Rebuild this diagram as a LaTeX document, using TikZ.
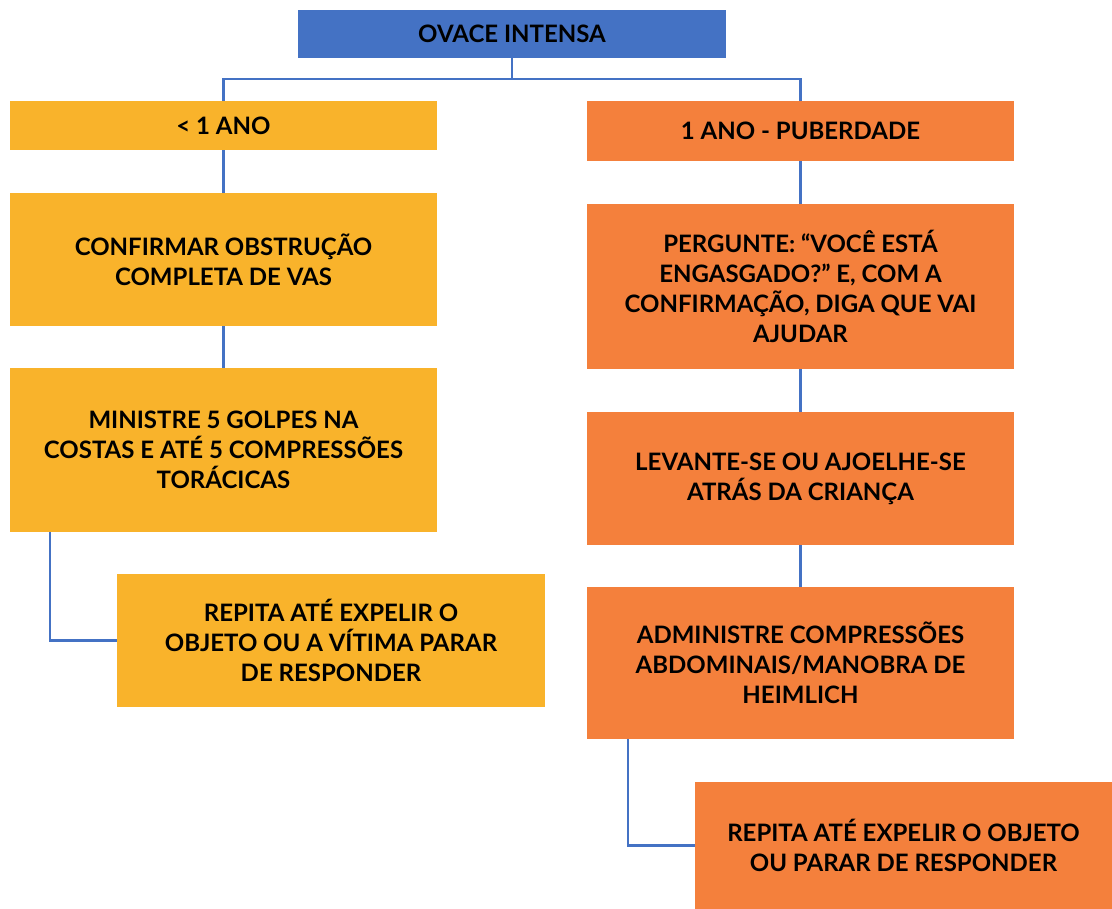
\documentclass[tikz,border=0pt]{standalone}
\usepackage{fontspec}
\setmainfont{Lato}
\usepackage{tikz}

\definecolor{ovblue}{HTML}{4472C4}
\definecolor{ovyellow}{HTML}{F9B32B}
\definecolor{ovorange}{HTML}{F4803C}

\begin{document}
\begin{tikzpicture}[
    x=1pt, y=-1pt,
    head/.style={rectangle, minimum width=428pt, minimum height=48pt, text centered, fill=ovblue, font=\bfseries\fontsize{24}{30}\selectfont},
    infant/.style={rectangle, minimum width=427pt, text centered, align=center, fill=ovyellow, font=\bfseries\fontsize{24}{30}\selectfont},
    child/.style={rectangle, minimum width=427pt, text centered, align=center, fill=ovorange, font=\bfseries\fontsize{24}{30}\selectfont},
    link/.style={ovblue, line width=2.2pt}
]

\useasboundingbox (0,0) rectangle (1112,909);

% Title
\node[head] (top) at (512,34) {OVACE INTENSA};

% Left branch (< 1 ano)
\node[infant, minimum height=49pt] (left1) at (223.5,125.5) {< 1 ANO};
\node[infant, minimum height=133pt] (left2) at (223.5,259.5) {CONFIRMAR OBSTRUÇÃO\\COMPLETA DE VAS};
\node[infant, minimum height=164pt] (left3) at (223.5,450) {MINISTRE 5 GOLPES NA\\COSTAS E ATÉ 5 COMPRESSÕES\\TORÁCICAS};
\node[infant, minimum width=428pt, minimum height=133pt] (left4) at (331,640.5) {REPITA ATÉ EXPELIR O\\OBJETO OU A VÍTIMA PARAR\\DE RESPONDER};

% Right branch (1 ano - puberdade)
\node[child, minimum height=60pt] (right1) at (800.5,131) {1 ANO - PUBERDADE};
\node[child, minimum height=165pt] (right2) at (800.5,286.5) {PERGUNTE: “VOCÊ ESTÁ\\ENGASGADO?” E, COM A\\CONFIRMAÇÃO, DIGA QUE VAI\\AJUDAR};
\node[child, minimum height=133pt] (right3) at (800.5,478.5) {LEVANTE-SE OU AJOELHE-SE\\ATRÁS DA CRIANÇA};
\node[child, minimum height=152pt] (right4) at (800.5,663) {ADMINISTRE COMPRESSÕES\\ABDOMINAIS/MANOBRA DE\\HEIMLICH};
\node[child, minimum width=417pt, minimum height=127pt] (right5) at (903.5,845.5) {REPITA ATÉ EXPELIR O OBJETO\\OU PARAR DE RESPONDER};

% Split from the title
\draw[link] (top.south) -- ++(0,21) coordinate (split);
\draw[link] (split) -| (left1.north);
\draw[link] (split) -| (right1.north);

% Vertical links
\draw[link] (left1.south) -- (left2.north);
\draw[link] (left2.south) -- (left3.north);
\draw[link] (right1.south) -- (right2.north);
\draw[link] (right2.south) -- (right3.north);
\draw[link] (right3.south) -- (right4.north);

% Elbows to the last steps
\draw[link] ([xshift=40pt]left3.south west) |- (left4.west);
\draw[link] ([xshift=41pt]right4.south west) |- (right5.west);

\end{tikzpicture}
\end{document}
